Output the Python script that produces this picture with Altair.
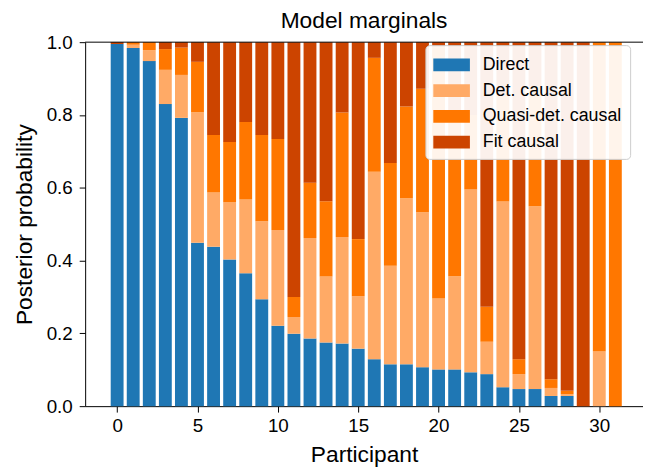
import altair as alt
import pandas as pd

participants = list(range(32))
categories = ["Direct", "Det. causal", "Quasi-det. causal", "Fit causal"]
colors = ["#1f77b4", "#ffaa66", "#ff7700", "#cc4400"]

direct = [0.995, 0.984, 0.948, 0.830, 0.792, 0.449, 0.438, 0.403, 0.365, 0.294,
          0.221, 0.199, 0.186, 0.175, 0.172, 0.158, 0.129, 0.115, 0.115, 0.107,
          0.101, 0.101, 0.093, 0.088, 0.052, 0.047, 0.047, 0.028, 0.028, 0.0,
          0.0, 0.0]
det_causal = [0.0, 0.009, 0.030, 0.094, 0.118, 0.358, 0.149, 0.157, 0.203, 0.214,
              0.263, 0.046, 0.276, 0.181, 0.293, 0.144, 0.515, 0.271, 0.456, 0.426,
              0.195, 0.256, 0.502, 0.089, 0.510, 0.041, 0.502, 0.022, 0.005, 0.0,
              0.150, 0.0]
quasi_det = [0.0, 0.007, 0.022, 0.057, 0.075, 0.139, 0.158, 0.166, 0.213, 0.237,
             0.250, 0.055, 0.152, 0.207, 0.342, 0.157, 0.313, 0.282, 0.252, 0.339,
             0.690, 0.423, 0.205, 0.096, 0.290, 0.041, 0.330, 0.024, 0.009, 0.0,
             0.850, 1.0]
fit_causal = [0.005, 0.0, 0.0, 0.019, 0.015, 0.054, 0.255, 0.274, 0.219, 0.255,
              0.266, 0.700, 0.386, 0.437, 0.193, 0.541, 0.043, 0.332, 0.177, 0.128,
              0.014, 0.220, 0.200, 0.727, 0.148, 0.871, 0.121, 0.926, 0.958, 1.0,
              0.0, 0.0]

x_ticks = [0, 5, 10, 15, 20, 25, 30]
y_ticks = [0.0, 0.2, 0.4, 0.6, 0.8, 1.0]

series = [direct, det_causal, quasi_det, fit_causal]
rows = []
for k, (cat, vals) in enumerate(zip(categories, series)):
    for p, v in zip(participants, vals):
        rows.append({"participant": p, "category": cat, "order": k, "value": v})
df = pd.DataFrame(rows)

FONT = "Liberation Sans"
W, H = 564, 368

bars = alt.Chart(df).transform_calculate(
    x0="datum.participant - 0.4", x1="datum.participant + 0.4"
).transform_stack(
    stack="value", groupby=["participant"], as_=["y0", "y1"],
    sort=[alt.SortField("order", order="ascending")]
).mark_bar(strokeWidth=0).encode(
    x=alt.X("x0:Q", scale=alt.Scale(domain=[-1.99, 32.72], nice=False, zero=False),
            axis=alt.Axis(values=x_ticks, title="Participant", format="d")),
    x2="x1:Q",
    y=alt.Y("y0:Q", scale=alt.Scale(domain=[0, 1], nice=False),
            axis=alt.Axis(values=y_ticks, format=".1f", title="Posterior probability")),
    y2="y1:Q",
    color=alt.Color("category:N", scale=alt.Scale(domain=categories, range=colors),
                    sort=categories,
                    legend=alt.Legend(title=None, orient="none", legendX=344, legendY=3,
                                      symbolType="M-1,-0.542H2.083V0.542H-1Z",
                                      symbolSize=576, symbolStrokeWidth=0,
                                      labelOffset=26, rowPadding=5,
                                      fillColor="rgba(255,255,255,0.92)",
                                      strokeColor="#cccccc", cornerRadius=4,
                                      padding=8, labelFontSize=18, labelFont=FONT,
                                      labelColor="black")),
)

top_spine = alt.Chart(pd.DataFrame({"a": [0]})).mark_rule(color="black", strokeWidth=1).encode(
    x=alt.value(0), x2=alt.value(W), y=alt.value(0)
)

chart = alt.layer(bars, top_spine).properties(
    width=W, height=H,
    title=alt.Title("Model marginals", fontSize=23, font=FONT, fontWeight="normal",
                    anchor="middle", offset=0, color="black"),
    autosize=alt.AutoSizeParams(type="none"),
    padding={"left": 78, "top": 32, "right": 0, "bottom": 62},
).configure_view(stroke=None).configure_axis(
    grid=False, domainColor="black", tickColor="black", domainWidth=1, tickWidth=1,
    tickSize=6, labelFontSize=19, labelFont=FONT, labelColor="black",
    titleFontSize=23, titleFont=FONT, titleFontWeight="normal", titleColor="black",
).configure_axisY(titlePadding=10, labelPadding=7).configure_axisX(titlePadding=8, labelPadding=5)

chart.save("out.html", embed_options={"renderer": "svg", "actions": False})
